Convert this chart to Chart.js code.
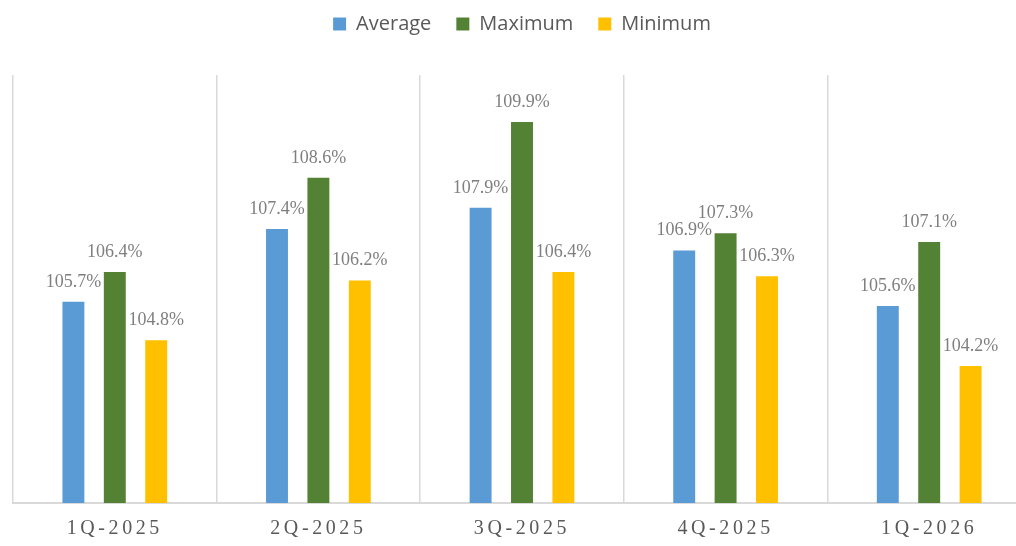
<!DOCTYPE html>
<html>
<head>
<meta charset="utf-8">
<script src="https://cdn.jsdelivr.net/npm/chart.js@4"></script>
<style>
    html, body { margin: 0; padding: 0; background: #fff; overflow: hidden; }
    #wrap { width: 1050px; height: 546px; position: relative; }
</style>
</head>
<body>
<div id="wrap"><canvas id="chart"></canvas></div>
<script>
// Chart data
const quarters = ['1Q-2025', '2Q-2025', '3Q-2025', '4Q-2025', '1Q-2026'];
const averageValues = [105.7, 107.4, 107.9, 106.9, 105.6];
const maximumValues = [106.4, 108.6, 109.9, 107.3, 107.1];
const minimumValues = [104.8, 106.2, 106.4, 106.3, 104.2];

// Value labels above each bar, plus letter spacing for the x ticks drawn afterwards
const barLabels = {
    id: 'barLabels',
    afterDatasetsDraw(chart) {
        const ctx = chart.ctx;
        ctx.save();
        ctx.font = '18px "Liberation Serif", "Times New Roman", serif';
        ctx.fillStyle = '#7f7f7f';
        ctx.textAlign = 'center';
        ctx.textBaseline = 'alphabetic';
        chart.data.datasets.forEach((ds, i) => {
            chart.getDatasetMeta(i).data.forEach((bar, j) => {
                ctx.fillText(ds.data[j].toFixed(1) + '%', bar.x, bar.y - 15);
            });
        });
        ctx.restore();
        ctx.letterSpacing = '3.6px';
    },
    afterDraw(chart) {
        chart.ctx.letterSpacing = '0px';
    }
};

// Extra room between legend and plot
const legendMargin = {
    id: 'legendMargin',
    beforeInit(chart) {
        const origFit = chart.legend.fit;
        chart.legend.fit = function() {
            origFit.bind(chart.legend)();
            this.height += 31;
        };
    }
};

new Chart(document.getElementById('chart'), {
    type: 'bar',
    data: {
        labels: quarters,
        datasets: [
            { label: 'Average', data: averageValues, backgroundColor: '#5B9BD5' },
            { label: 'Maximum', data: maximumValues, backgroundColor: '#548235' },
            { label: 'Minimum', data: minimumValues, backgroundColor: '#FFC000' }
        ]
    },
    options: {
        responsive: true,
        maintainAspectRatio: false,
        animation: false,
        categoryPercentage: 0.61,
        barPercentage: 0.53,
        layout: { padding: { left: 13, right: 19, top: -11, bottom: -9 } },
        plugins: {
            legend: {
                position: 'top',
                labels: {
                    boxWidth: 13,
                    boxHeight: 13,
                    padding: 25,
                    color: '#595959',
                    font: { family: '"Open Sans", sans-serif', size: 20 }
                }
            },
            tooltip: { enabled: false }
        },
        scales: {
            y: {
                display: false,
                min: 101,
                max: 111
            },
            x: {
                grid: {
                    offset: true,
                    color: '#d9d9d9',
                    lineWidth: 1.5,
                    drawTicks: false,
                    tickLength: 0
                },
                border: { color: '#d9d9d9', width: 2 },
                ticks: {
                    z: 1,
                    padding: 14,
                    color: '#595959',
                    font: { family: '"Liberation Serif", "Times New Roman", serif', size: 20 }
                }
            }
        }
    },
    plugins: [barLabels, legendMargin]
});
</script>
</body>
</html>
